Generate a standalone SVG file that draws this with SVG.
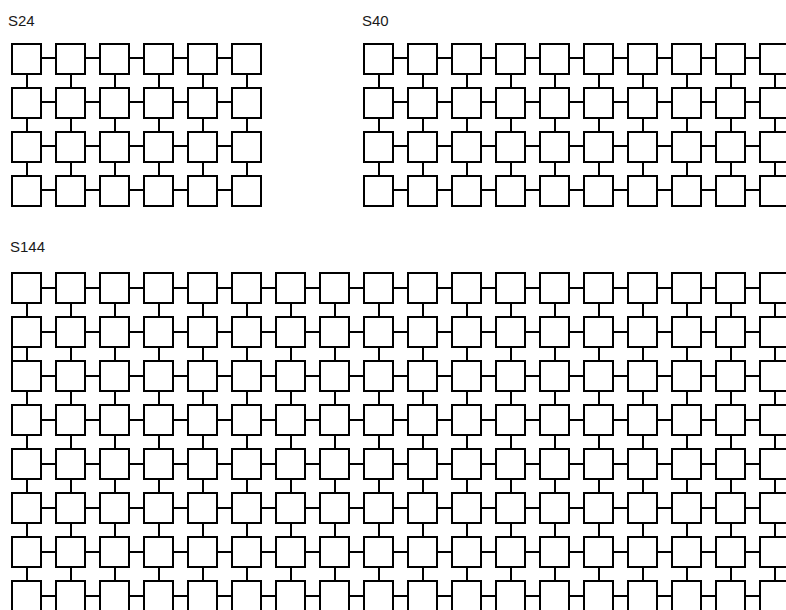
<svg xmlns="http://www.w3.org/2000/svg" xmlns:xlink="http://www.w3.org/1999/xlink" width="786" height="610" viewBox="0 0 786 610">
<style>
.lbl{font-family:"Liberation Sans",Arial,sans-serif;font-size:15px;fill:#1a1a1a}
.cn{fill:none;stroke:#000;stroke-width:2}
</style>
<defs>
<rect id="bx" width="29" height="30" fill="#fff" stroke="#000" stroke-width="2"/>
</defs>
<rect width="786" height="610" fill="#fff"/>
<text class="lbl" x="8" y="26">S24</text>
<text class="lbl" x="362" y="26">S40</text>
<text class="lbl" x="10" y="252">S144</text>
<g id="connectors">
<path class="cn" d="M27 58H247M27 102H247M27 146H247M27 190H247M27 58V190M71 58V190M115 58V190M159 58V190M203 58V190M247 58V190"/>
<path class="cn" d="M379 58H775M379 102H775M379 146H775M379 190H775M379 58V190M423 58V190M467 58V190M511 58V190M555 58V190M599 58V190M643 58V190M687 58V190M731 58V190M775 58V190"/>
<path class="cn" d="M27 288H775M27 332H775M27 376H775M27 420H775M27 464H775M27 508H775M27 552H775M27 596H775M27 288V600M71 288V600M115 288V600M159 288V600M203 288V600M247 288V600M291 288V600M335 288V600M379 288V600M423 288V600M467 288V600M511 288V600M555 288V600M599 288V600M643 288V600M687 288V600M731 288V600M775 288V600M12 346V361"/>
</g>
<g id="S24">
<g id="s24-r1c1"><use href="#bx" x="12" y="44"/></g><g id="s24-r1c2"><use href="#bx" x="56" y="44"/></g><g id="s24-r1c3"><use href="#bx" x="100" y="44"/></g><g id="s24-r1c4"><use href="#bx" x="144" y="44"/></g><g id="s24-r1c5"><use href="#bx" x="188" y="44"/></g><g id="s24-r1c6"><use href="#bx" x="232" y="44"/></g>
<g id="s24-r2c1"><use href="#bx" x="12" y="88"/></g><g id="s24-r2c2"><use href="#bx" x="56" y="88"/></g><g id="s24-r2c3"><use href="#bx" x="100" y="88"/></g><g id="s24-r2c4"><use href="#bx" x="144" y="88"/></g><g id="s24-r2c5"><use href="#bx" x="188" y="88"/></g><g id="s24-r2c6"><use href="#bx" x="232" y="88"/></g>
<g id="s24-r3c1"><use href="#bx" x="12" y="132"/></g><g id="s24-r3c2"><use href="#bx" x="56" y="132"/></g><g id="s24-r3c3"><use href="#bx" x="100" y="132"/></g><g id="s24-r3c4"><use href="#bx" x="144" y="132"/></g><g id="s24-r3c5"><use href="#bx" x="188" y="132"/></g><g id="s24-r3c6"><use href="#bx" x="232" y="132"/></g>
<g id="s24-r4c1"><use href="#bx" x="12" y="176"/></g><g id="s24-r4c2"><use href="#bx" x="56" y="176"/></g><g id="s24-r4c3"><use href="#bx" x="100" y="176"/></g><g id="s24-r4c4"><use href="#bx" x="144" y="176"/></g><g id="s24-r4c5"><use href="#bx" x="188" y="176"/></g><g id="s24-r4c6"><use href="#bx" x="232" y="176"/></g>
</g>
<g id="S40">
<g id="s40-r1c1"><use href="#bx" x="364" y="44"/></g><g id="s40-r1c2"><use href="#bx" x="408" y="44"/></g><g id="s40-r1c3"><use href="#bx" x="452" y="44"/></g><g id="s40-r1c4"><use href="#bx" x="496" y="44"/></g><g id="s40-r1c5"><use href="#bx" x="540" y="44"/></g><g id="s40-r1c6"><use href="#bx" x="584" y="44"/></g><g id="s40-r1c7"><use href="#bx" x="628" y="44"/></g><g id="s40-r1c8"><use href="#bx" x="672" y="44"/></g><g id="s40-r1c9"><use href="#bx" x="716" y="44"/></g><g id="s40-r1c10"><use href="#bx" x="760" y="44"/></g>
<g id="s40-r2c1"><use href="#bx" x="364" y="88"/></g><g id="s40-r2c2"><use href="#bx" x="408" y="88"/></g><g id="s40-r2c3"><use href="#bx" x="452" y="88"/></g><g id="s40-r2c4"><use href="#bx" x="496" y="88"/></g><g id="s40-r2c5"><use href="#bx" x="540" y="88"/></g><g id="s40-r2c6"><use href="#bx" x="584" y="88"/></g><g id="s40-r2c7"><use href="#bx" x="628" y="88"/></g><g id="s40-r2c8"><use href="#bx" x="672" y="88"/></g><g id="s40-r2c9"><use href="#bx" x="716" y="88"/></g><g id="s40-r2c10"><use href="#bx" x="760" y="88"/></g>
<g id="s40-r3c1"><use href="#bx" x="364" y="132"/></g><g id="s40-r3c2"><use href="#bx" x="408" y="132"/></g><g id="s40-r3c3"><use href="#bx" x="452" y="132"/></g><g id="s40-r3c4"><use href="#bx" x="496" y="132"/></g><g id="s40-r3c5"><use href="#bx" x="540" y="132"/></g><g id="s40-r3c6"><use href="#bx" x="584" y="132"/></g><g id="s40-r3c7"><use href="#bx" x="628" y="132"/></g><g id="s40-r3c8"><use href="#bx" x="672" y="132"/></g><g id="s40-r3c9"><use href="#bx" x="716" y="132"/></g><g id="s40-r3c10"><use href="#bx" x="760" y="132"/></g>
<g id="s40-r4c1"><use href="#bx" x="364" y="176"/></g><g id="s40-r4c2"><use href="#bx" x="408" y="176"/></g><g id="s40-r4c3"><use href="#bx" x="452" y="176"/></g><g id="s40-r4c4"><use href="#bx" x="496" y="176"/></g><g id="s40-r4c5"><use href="#bx" x="540" y="176"/></g><g id="s40-r4c6"><use href="#bx" x="584" y="176"/></g><g id="s40-r4c7"><use href="#bx" x="628" y="176"/></g><g id="s40-r4c8"><use href="#bx" x="672" y="176"/></g><g id="s40-r4c9"><use href="#bx" x="716" y="176"/></g><g id="s40-r4c10"><use href="#bx" x="760" y="176"/></g>
</g>
<g id="S144">
<g id="s144-r1c1"><use href="#bx" x="12" y="273"/></g><g id="s144-r1c2"><use href="#bx" x="56" y="273"/></g><g id="s144-r1c3"><use href="#bx" x="100" y="273"/></g><g id="s144-r1c4"><use href="#bx" x="144" y="273"/></g><g id="s144-r1c5"><use href="#bx" x="188" y="273"/></g><g id="s144-r1c6"><use href="#bx" x="232" y="273"/></g><g id="s144-r1c7"><use href="#bx" x="276" y="273"/></g><g id="s144-r1c8"><use href="#bx" x="320" y="273"/></g><g id="s144-r1c9"><use href="#bx" x="364" y="273"/></g><g id="s144-r1c10"><use href="#bx" x="408" y="273"/></g><g id="s144-r1c11"><use href="#bx" x="452" y="273"/></g><g id="s144-r1c12"><use href="#bx" x="496" y="273"/></g><g id="s144-r1c13"><use href="#bx" x="540" y="273"/></g><g id="s144-r1c14"><use href="#bx" x="584" y="273"/></g><g id="s144-r1c15"><use href="#bx" x="628" y="273"/></g><g id="s144-r1c16"><use href="#bx" x="672" y="273"/></g><g id="s144-r1c17"><use href="#bx" x="716" y="273"/></g><g id="s144-r1c18"><use href="#bx" x="760" y="273"/></g>
<g id="s144-r2c1"><use href="#bx" x="12" y="317"/></g><g id="s144-r2c2"><use href="#bx" x="56" y="317"/></g><g id="s144-r2c3"><use href="#bx" x="100" y="317"/></g><g id="s144-r2c4"><use href="#bx" x="144" y="317"/></g><g id="s144-r2c5"><use href="#bx" x="188" y="317"/></g><g id="s144-r2c6"><use href="#bx" x="232" y="317"/></g><g id="s144-r2c7"><use href="#bx" x="276" y="317"/></g><g id="s144-r2c8"><use href="#bx" x="320" y="317"/></g><g id="s144-r2c9"><use href="#bx" x="364" y="317"/></g><g id="s144-r2c10"><use href="#bx" x="408" y="317"/></g><g id="s144-r2c11"><use href="#bx" x="452" y="317"/></g><g id="s144-r2c12"><use href="#bx" x="496" y="317"/></g><g id="s144-r2c13"><use href="#bx" x="540" y="317"/></g><g id="s144-r2c14"><use href="#bx" x="584" y="317"/></g><g id="s144-r2c15"><use href="#bx" x="628" y="317"/></g><g id="s144-r2c16"><use href="#bx" x="672" y="317"/></g><g id="s144-r2c17"><use href="#bx" x="716" y="317"/></g><g id="s144-r2c18"><use href="#bx" x="760" y="317"/></g>
<g id="s144-r3c1"><use href="#bx" x="12" y="361"/></g><g id="s144-r3c2"><use href="#bx" x="56" y="361"/></g><g id="s144-r3c3"><use href="#bx" x="100" y="361"/></g><g id="s144-r3c4"><use href="#bx" x="144" y="361"/></g><g id="s144-r3c5"><use href="#bx" x="188" y="361"/></g><g id="s144-r3c6"><use href="#bx" x="232" y="361"/></g><g id="s144-r3c7"><use href="#bx" x="276" y="361"/></g><g id="s144-r3c8"><use href="#bx" x="320" y="361"/></g><g id="s144-r3c9"><use href="#bx" x="364" y="361"/></g><g id="s144-r3c10"><use href="#bx" x="408" y="361"/></g><g id="s144-r3c11"><use href="#bx" x="452" y="361"/></g><g id="s144-r3c12"><use href="#bx" x="496" y="361"/></g><g id="s144-r3c13"><use href="#bx" x="540" y="361"/></g><g id="s144-r3c14"><use href="#bx" x="584" y="361"/></g><g id="s144-r3c15"><use href="#bx" x="628" y="361"/></g><g id="s144-r3c16"><use href="#bx" x="672" y="361"/></g><g id="s144-r3c17"><use href="#bx" x="716" y="361"/></g><g id="s144-r3c18"><use href="#bx" x="760" y="361"/></g>
<g id="s144-r4c1"><use href="#bx" x="12" y="405"/></g><g id="s144-r4c2"><use href="#bx" x="56" y="405"/></g><g id="s144-r4c3"><use href="#bx" x="100" y="405"/></g><g id="s144-r4c4"><use href="#bx" x="144" y="405"/></g><g id="s144-r4c5"><use href="#bx" x="188" y="405"/></g><g id="s144-r4c6"><use href="#bx" x="232" y="405"/></g><g id="s144-r4c7"><use href="#bx" x="276" y="405"/></g><g id="s144-r4c8"><use href="#bx" x="320" y="405"/></g><g id="s144-r4c9"><use href="#bx" x="364" y="405"/></g><g id="s144-r4c10"><use href="#bx" x="408" y="405"/></g><g id="s144-r4c11"><use href="#bx" x="452" y="405"/></g><g id="s144-r4c12"><use href="#bx" x="496" y="405"/></g><g id="s144-r4c13"><use href="#bx" x="540" y="405"/></g><g id="s144-r4c14"><use href="#bx" x="584" y="405"/></g><g id="s144-r4c15"><use href="#bx" x="628" y="405"/></g><g id="s144-r4c16"><use href="#bx" x="672" y="405"/></g><g id="s144-r4c17"><use href="#bx" x="716" y="405"/></g><g id="s144-r4c18"><use href="#bx" x="760" y="405"/></g>
<g id="s144-r5c1"><use href="#bx" x="12" y="449"/></g><g id="s144-r5c2"><use href="#bx" x="56" y="449"/></g><g id="s144-r5c3"><use href="#bx" x="100" y="449"/></g><g id="s144-r5c4"><use href="#bx" x="144" y="449"/></g><g id="s144-r5c5"><use href="#bx" x="188" y="449"/></g><g id="s144-r5c6"><use href="#bx" x="232" y="449"/></g><g id="s144-r5c7"><use href="#bx" x="276" y="449"/></g><g id="s144-r5c8"><use href="#bx" x="320" y="449"/></g><g id="s144-r5c9"><use href="#bx" x="364" y="449"/></g><g id="s144-r5c10"><use href="#bx" x="408" y="449"/></g><g id="s144-r5c11"><use href="#bx" x="452" y="449"/></g><g id="s144-r5c12"><use href="#bx" x="496" y="449"/></g><g id="s144-r5c13"><use href="#bx" x="540" y="449"/></g><g id="s144-r5c14"><use href="#bx" x="584" y="449"/></g><g id="s144-r5c15"><use href="#bx" x="628" y="449"/></g><g id="s144-r5c16"><use href="#bx" x="672" y="449"/></g><g id="s144-r5c17"><use href="#bx" x="716" y="449"/></g><g id="s144-r5c18"><use href="#bx" x="760" y="449"/></g>
<g id="s144-r6c1"><use href="#bx" x="12" y="493"/></g><g id="s144-r6c2"><use href="#bx" x="56" y="493"/></g><g id="s144-r6c3"><use href="#bx" x="100" y="493"/></g><g id="s144-r6c4"><use href="#bx" x="144" y="493"/></g><g id="s144-r6c5"><use href="#bx" x="188" y="493"/></g><g id="s144-r6c6"><use href="#bx" x="232" y="493"/></g><g id="s144-r6c7"><use href="#bx" x="276" y="493"/></g><g id="s144-r6c8"><use href="#bx" x="320" y="493"/></g><g id="s144-r6c9"><use href="#bx" x="364" y="493"/></g><g id="s144-r6c10"><use href="#bx" x="408" y="493"/></g><g id="s144-r6c11"><use href="#bx" x="452" y="493"/></g><g id="s144-r6c12"><use href="#bx" x="496" y="493"/></g><g id="s144-r6c13"><use href="#bx" x="540" y="493"/></g><g id="s144-r6c14"><use href="#bx" x="584" y="493"/></g><g id="s144-r6c15"><use href="#bx" x="628" y="493"/></g><g id="s144-r6c16"><use href="#bx" x="672" y="493"/></g><g id="s144-r6c17"><use href="#bx" x="716" y="493"/></g><g id="s144-r6c18"><use href="#bx" x="760" y="493"/></g>
<g id="s144-r7c1"><use href="#bx" x="12" y="537"/></g><g id="s144-r7c2"><use href="#bx" x="56" y="537"/></g><g id="s144-r7c3"><use href="#bx" x="100" y="537"/></g><g id="s144-r7c4"><use href="#bx" x="144" y="537"/></g><g id="s144-r7c5"><use href="#bx" x="188" y="537"/></g><g id="s144-r7c6"><use href="#bx" x="232" y="537"/></g><g id="s144-r7c7"><use href="#bx" x="276" y="537"/></g><g id="s144-r7c8"><use href="#bx" x="320" y="537"/></g><g id="s144-r7c9"><use href="#bx" x="364" y="537"/></g><g id="s144-r7c10"><use href="#bx" x="408" y="537"/></g><g id="s144-r7c11"><use href="#bx" x="452" y="537"/></g><g id="s144-r7c12"><use href="#bx" x="496" y="537"/></g><g id="s144-r7c13"><use href="#bx" x="540" y="537"/></g><g id="s144-r7c14"><use href="#bx" x="584" y="537"/></g><g id="s144-r7c15"><use href="#bx" x="628" y="537"/></g><g id="s144-r7c16"><use href="#bx" x="672" y="537"/></g><g id="s144-r7c17"><use href="#bx" x="716" y="537"/></g><g id="s144-r7c18"><use href="#bx" x="760" y="537"/></g>
<g id="s144-r8c1"><use href="#bx" x="12" y="581"/></g><g id="s144-r8c2"><use href="#bx" x="56" y="581"/></g><g id="s144-r8c3"><use href="#bx" x="100" y="581"/></g><g id="s144-r8c4"><use href="#bx" x="144" y="581"/></g><g id="s144-r8c5"><use href="#bx" x="188" y="581"/></g><g id="s144-r8c6"><use href="#bx" x="232" y="581"/></g><g id="s144-r8c7"><use href="#bx" x="276" y="581"/></g><g id="s144-r8c8"><use href="#bx" x="320" y="581"/></g><g id="s144-r8c9"><use href="#bx" x="364" y="581"/></g><g id="s144-r8c10"><use href="#bx" x="408" y="581"/></g><g id="s144-r8c11"><use href="#bx" x="452" y="581"/></g><g id="s144-r8c12"><use href="#bx" x="496" y="581"/></g><g id="s144-r8c13"><use href="#bx" x="540" y="581"/></g><g id="s144-r8c14"><use href="#bx" x="584" y="581"/></g><g id="s144-r8c15"><use href="#bx" x="628" y="581"/></g><g id="s144-r8c16"><use href="#bx" x="672" y="581"/></g><g id="s144-r8c17"><use href="#bx" x="716" y="581"/></g><g id="s144-r8c18"><use href="#bx" x="760" y="581"/></g>
</g>
</svg>
